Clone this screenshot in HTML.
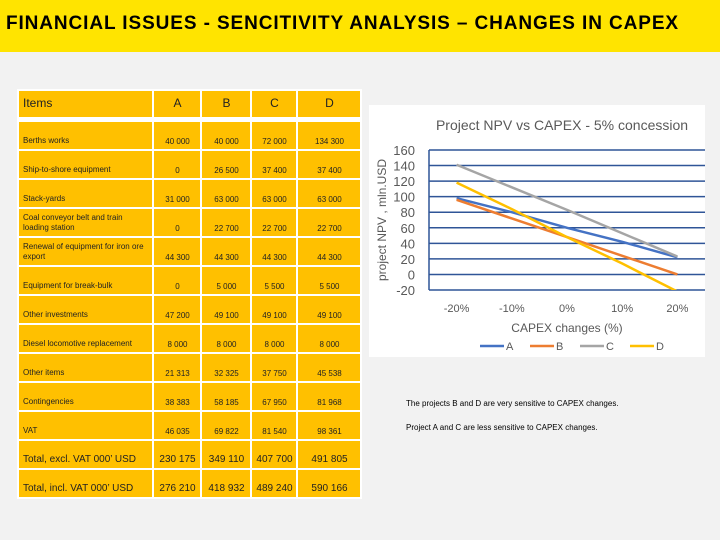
<!DOCTYPE html>
<html><head><meta charset="utf-8"><style>
body{margin:0;width:720px;height:540px;background:#f2f2f2;position:relative;overflow:hidden;font-family:"Liberation Sans",sans-serif}
#hdr{position:absolute;left:0;top:0;width:720px;height:52px;background:#ffe400}
#hdr h1{margin:0;position:absolute;left:6px;top:13px;font-size:19px;font-weight:bold;letter-spacing:0.9px;color:#000;white-space:nowrap}
table{position:absolute;left:17px;top:89px;border-collapse:collapse}
td{background:#ffc000;border:2px solid #fff;font-size:8px;vertical-align:bottom;padding:0 3px 3px 4px;height:24px;text-align:center;color:#222;white-space:nowrap}
td.l{text-align:left;line-height:10px;white-space:normal}
tr.h td{font-size:12px;vertical-align:middle;height:23px}
tr.h td{border-bottom:5px solid #fff}
tr.t td{font-size:10px;height:24px}
tr.t td.l{white-space:nowrap}
p.n{position:absolute;left:406px;font-size:8px;margin:0;color:#000}
</style></head><body>
<div id="hdr"><h1>FINANCIAL ISSUES - SENCITIVITY ANALYSIS – CHANGES IN CAPEX</h1></div>
<table>
<colgroup><col style="width:135px"><col style="width:48px"><col style="width:50px"><col style="width:46px"><col style="width:64px"></colgroup>
<tr class="h"><td class="l">Items</td><td>A</td><td>B</td><td>C</td><td>D</td></tr>
<tr><td class="l">Berths works</td><td>40 000</td><td>40 000</td><td>72 000</td><td>134 300</td></tr>
<tr><td class="l">Ship-to-shore equipment</td><td>0</td><td>26 500</td><td>37 400</td><td>37 400</td></tr>
<tr><td class="l">Stack-yards</td><td>31 000</td><td>63 000</td><td>63 000</td><td>63 000</td></tr>
<tr><td class="l">Coal conveyor belt and train loading station</td><td>0</td><td>22 700</td><td>22 700</td><td>22 700</td></tr>
<tr><td class="l">Renewal of equipment for iron ore export</td><td>44 300</td><td>44 300</td><td>44 300</td><td>44 300</td></tr>
<tr><td class="l">Equipment for break-bulk</td><td>0</td><td>5 000</td><td>5 500</td><td>5 500</td></tr>
<tr><td class="l">Other investments</td><td>47 200</td><td>49 100</td><td>49 100</td><td>49 100</td></tr>
<tr><td class="l">Diesel locomotive replacement</td><td>8 000</td><td>8 000</td><td>8 000</td><td>8 000</td></tr>
<tr><td class="l">Other items</td><td>21 313</td><td>32 325</td><td>37 750</td><td>45 538</td></tr>
<tr><td class="l">Contingencies</td><td>38 383</td><td>58 185</td><td>67 950</td><td>81 968</td></tr>
<tr><td class="l">VAT</td><td>46 035</td><td>69 822</td><td>81 540</td><td>98 361</td></tr>
<tr class="t"><td class="l">Total, excl. VAT 000’ USD</td><td>230 175</td><td>349 110</td><td>407 700</td><td>491 805</td></tr>
<tr class="t"><td class="l">Total, incl. VAT 000’ USD</td><td>276 210</td><td>418 932</td><td>489 240</td><td>590 166</td></tr>
</table>
<svg id="chart" width="720" height="540" style="position:absolute;left:0;top:0"></svg>
<p class="n" style="top:399px">The projects B and D are very sensitive to CAPEX changes.</p>
<p class="n" style="top:423px">Project A and C are less sensitive to CAPEX changes.</p>
<script>
const categories=["-20%","-10%","0%","10%","20%"];
const seriesA=[98,80,60,42,22];
const seriesB=[96,72,48,24,0];
const seriesC=[141,112,83,53,23];
const seriesD=[118,84,48,14,-22];
const yTicks=[160,140,120,100,80,60,40,20,0,-20];
const names=["A","B","C","D"];
const colors=["#4472c4","#ed7d31","#a5a5a5","#ffc000"];
const NS="http://www.w3.org/2000/svg";
const svg=document.getElementById('chart');
function mk(t,a){const e=document.createElementNS(NS,t);for(const k in a)e.setAttribute(k,a[k]);svg.appendChild(e);return e;}
const X0=429,X1=705,Y0=150,Y1=290,yMin=-20,yMax=160;
const band=(X1-X0)/categories.length;
function xs(i){return X0+band*(i+0.5);}
function ys(v){return Y0+(yMax-v)/(yMax-yMin)*(Y1-Y0);}
let bg=mk('rect',{x:369,y:105,width:336,height:252,fill:'#fff'});


let tt=mk('text',{x:562,y:130,'text-anchor':'middle','font-size':14,fill:'#595959','font-family':'Liberation Sans, sans-serif'});
tt.textContent='Project NPV vs CAPEX - 5% concession';


yTicks.forEach(v=>{
 const y=ys(v);
 const g=mk('line',{x1:X0,x2:X1,y1:y,y2:y,stroke:'#2f5597','stroke-width':1.5});
 
 
 const t=mk('text',{x:X0-14,y:y+5,'text-anchor':'end','font-size':13,fill:'#595959','font-family':'Liberation Sans, sans-serif'});
 t.textContent=v;
 
 
});
let vl=mk('line',{x1:X0,x2:X0,y1:Y0,y2:Y1,stroke:'#2f5597','stroke-width':1.5});


categories.forEach((c,i)=>{
 const t=mk('text',{x:xs(i),y:312,'text-anchor':'middle','font-size':11,fill:'#595959','font-family':'Liberation Sans, sans-serif'});
 t.textContent=c;
 
 
});
let xt=mk('text',{x:567,y:332,'text-anchor':'middle','font-size':12,fill:'#595959','font-family':'Liberation Sans, sans-serif'});
xt.textContent='CAPEX changes (%)';


let yt=mk('text',{x:0,y:0,'text-anchor':'middle','font-size':12,fill:'#595959','font-family':'Liberation Sans, sans-serif',transform:'translate(386,220) rotate(-90)'});
yt.textContent='project NPV , mln.USD';


const cp=mk('clipPath',{id:'cp'});
const cr=document.createElementNS(NS,'rect');cr.setAttribute('x',X0);cr.setAttribute('y',Y0-5);cr.setAttribute('width',X1-X0);cr.setAttribute('height',Y1-Y0+5);cp.appendChild(cr);
[seriesA,seriesB,seriesC,seriesD].forEach((s,k)=>{
 const p=mk('polyline',{points:s.map((v,i)=>xs(i)+','+ys(v)).join(' '),fill:'none',stroke:colors[k],'stroke-width':2.5,'clip-path':'url(#cp)'});
 
 
 const lx=480+k*50;
 const ll=mk('line',{x1:lx,x2:lx+24,y1:346,y2:346,stroke:colors[k],'stroke-width':2.5});
 
 
 const lt=mk('text',{x:lx+26,y:350,'font-size':11,fill:'#595959','font-family':'Liberation Sans, sans-serif'});
 lt.textContent=names[k];
 
 
});
</script>
</body></html>
